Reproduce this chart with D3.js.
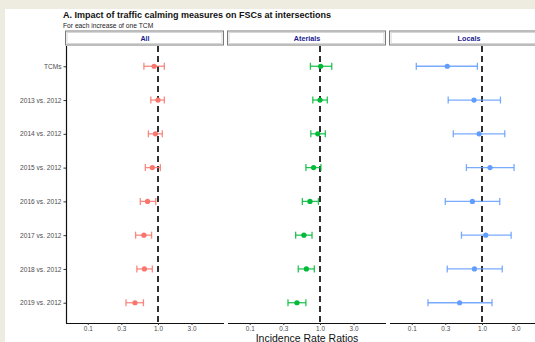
<!DOCTYPE html>
<html>
<head>
<meta charset="utf-8">
<script src="https://cdn.jsdelivr.net/npm/d3@7"></script>
<style>
  html, body { margin: 0; padding: 0; background: #eeebe1; }
  svg { display: block; font-family: "Liberation Sans", Arial, sans-serif; }
</style>
</head>
<body>
<script>
// rows, top to bottom
const terms = ["TCMs", "2013 vs. 2012", "2014 vs. 2012", "2015 vs. 2012", "2016 vs. 2012",
  "2017 vs. 2012", "2018 vs. 2012", "2019 vs. 2012"];
const facets = ["All", "Aterials", "Locals"];
const colors = ["#F8766D", "#00BA38", "#619CFF"];
const xTicks = [0.1, 0.3, 1.0, 3.0];

// incidence rate ratios (point, lower, upper) per facet
const allIrr   = [0.88, 1.00, 0.92, 0.83, 0.71, 0.63, 0.64, 0.47];
const allLo    = [0.63, 0.79, 0.73, 0.66, 0.56, 0.48, 0.50, 0.35];
const allHi    = [1.23, 1.23, 1.15, 1.08, 0.93, 0.81, 0.83, 0.62];
const artIrr   = [1.02, 1.00, 0.93, 0.81, 0.72, 0.59, 0.64, 0.47];
const artLo    = [0.73, 0.79, 0.74, 0.63, 0.56, 0.45, 0.49, 0.35];
const artHi    = [1.47, 1.27, 1.19, 1.03, 0.95, 0.77, 0.83, 0.63];
const locIrr   = [0.32, 0.77, 0.91, 1.30, 0.73, 1.13, 0.78, 0.48];
const locLo    = [0.116, 0.33, 0.39, 0.60, 0.30, 0.51, 0.32, 0.17];
const locHi    = [0.86, 1.83, 2.11, 2.86, 1.79, 2.60, 1.94, 1.39];

const series = [
  {irr: allIrr, lo: allLo, hi: allHi},
  {irr: artIrr, lo: artLo, hi: artHi},
  {irr: locIrr, lo: locLo, hi: locHi}
];

const width = 535, height = 342;
const margin = ({top: 46, left: 66, bottom: 323});
const panelW = 158, gap = 4, stripH = 15;

const svg = d3.create("svg")
    .attr("width", width)
    .attr("height", height)
    .attr("viewBox", [0, 0, width, height]);

svg.append("rect")
    .attr("x", 5).attr("y", 9)
    .attr("width", width - 5).attr("height", height - 9)
    .attr("fill", "white");

svg.append("text")
    .attr("x", 63).attr("y", 18)
    .attr("font-size", 9)
    .attr("font-weight", "bold")
    .attr("fill", "#111")
    .text("A. Impact of traffic calming measures on FSCs at intersections");

svg.append("text")
    .attr("x", 63).attr("y", 27.5)
    .attr("font-size", 6.7)
    .attr("fill", "#222")
    .text("For each increase of one TCM");

const y = d3.scalePoint()
    .domain(terms)
    .range([margin.top, margin.bottom])
    .padding(0.6);

const x = d3.scaleLog()
    .domain([0.049, 8.7])
    .range([0, panelW]);

facets.forEach((f, i) => {
  const x0 = margin.left + i * (panelW + gap);
  const g = svg.append("g").attr("transform", `translate(${x0},0)`);
  const s = series[i];
  const rows = terms.map((t, j) => ({term: t, irr: s.irr[j], lo: s.lo[j], hi: s.hi[j]}));

  // strip
  g.append("rect")
      .attr("x", -0.5).attr("y", margin.top - stripH)
      .attr("width", panelW).attr("height", stripH - 1)
      .attr("fill", "white")
      .attr("stroke", "#7a7a7a");
  g.append("rect")
      .attr("x", 1).attr("y", margin.top - stripH + 1.5)
      .attr("width", panelW - 3).attr("height", stripH - 4)
      .attr("fill", "none")
      .attr("stroke", "#d6d6d6");
  g.append("text")
      .attr("x", panelW / 2).attr("y", margin.top - stripH / 2 + 2.2)
      .attr("text-anchor", "middle")
      .attr("font-size", 7.2)
      .attr("font-weight", "bold")
      .attr("fill", "#1c1c8f")
      .text(f);

  // x axis
  g.append("g")
      .attr("transform", `translate(0,${margin.bottom})`)
      .call(d3.axisBottom(x).tickValues(xTicks).tickFormat(d3.format(".1f")).tickSize(2).tickPadding(1))
      .call(g => g.select(".domain").attr("stroke", "#111").attr("stroke-width", 1.2)
          .attr("d", `M0,0.5H${panelW}`))
      .call(g => g.selectAll(".tick line").attr("stroke", "#333"))
      .call(g => g.selectAll(".tick text").attr("font-size", 6.4).attr("fill", "#4d4d4d")
          .attr("font-family", "Liberation Sans, Arial, sans-serif"));

  if (i === 0) {
    g.append("g")
        .call(d3.axisLeft(y).tickSize(2.5).tickPadding(2))
        .call(g => g.select(".domain").attr("stroke", "#111").attr("stroke-width", 1.2)
            .attr("d", `M0.5,${margin.top}V${margin.bottom + 0.5}`))
        .call(g => g.selectAll(".tick line").attr("stroke", "#333"))
        .call(g => g.selectAll(".tick text").attr("font-size", 6.6).attr("fill", "#4d4d4d")
            .attr("font-family", "Liberation Sans, Arial, sans-serif"));
  }

  // reference line at 1
  g.append("line")
      .attr("x1", x(1)).attr("x2", x(1))
      .attr("y1", margin.top).attr("y2", margin.bottom)
      .attr("stroke", "#1a1a1a")
      .attr("stroke-width", 1.8)
      .attr("stroke-dasharray", "6,4");

  const bars = g.append("g")
      .attr("stroke", colors[i])
      .attr("stroke-width", 1.3)
      .attr("stroke-opacity", 0.85)
    .selectAll("g")
    .data(rows)
    .join("g");
  bars.append("line")
      .attr("x1", d => x(d.lo)).attr("x2", d => x(d.hi))
      .attr("y1", d => y(d.term)).attr("y2", d => y(d.term));
  bars.append("line")
      .attr("x1", d => x(d.lo)).attr("x2", d => x(d.lo))
      .attr("y1", d => y(d.term) - 3.5).attr("y2", d => y(d.term) + 3.5);
  bars.append("line")
      .attr("x1", d => x(d.hi)).attr("x2", d => x(d.hi))
      .attr("y1", d => y(d.term) - 3.5).attr("y2", d => y(d.term) + 3.5);

  g.append("g")
      .attr("fill", colors[i])
    .selectAll("circle")
    .data(rows)
    .join("circle")
      .attr("cx", d => x(d.irr))
      .attr("cy", d => y(d.term))
      .attr("r", 2.6);
});

svg.append("text")
    .attr("x", margin.left + (3 * panelW + 2 * gap) / 2)
    .attr("y", 341.5)
    .attr("text-anchor", "middle")
    .attr("font-size", 10.5)
    .attr("fill", "#111")
    .text("Incidence Rate Ratios");

document.body.appendChild(svg.node());
</script>
</body>
</html>
